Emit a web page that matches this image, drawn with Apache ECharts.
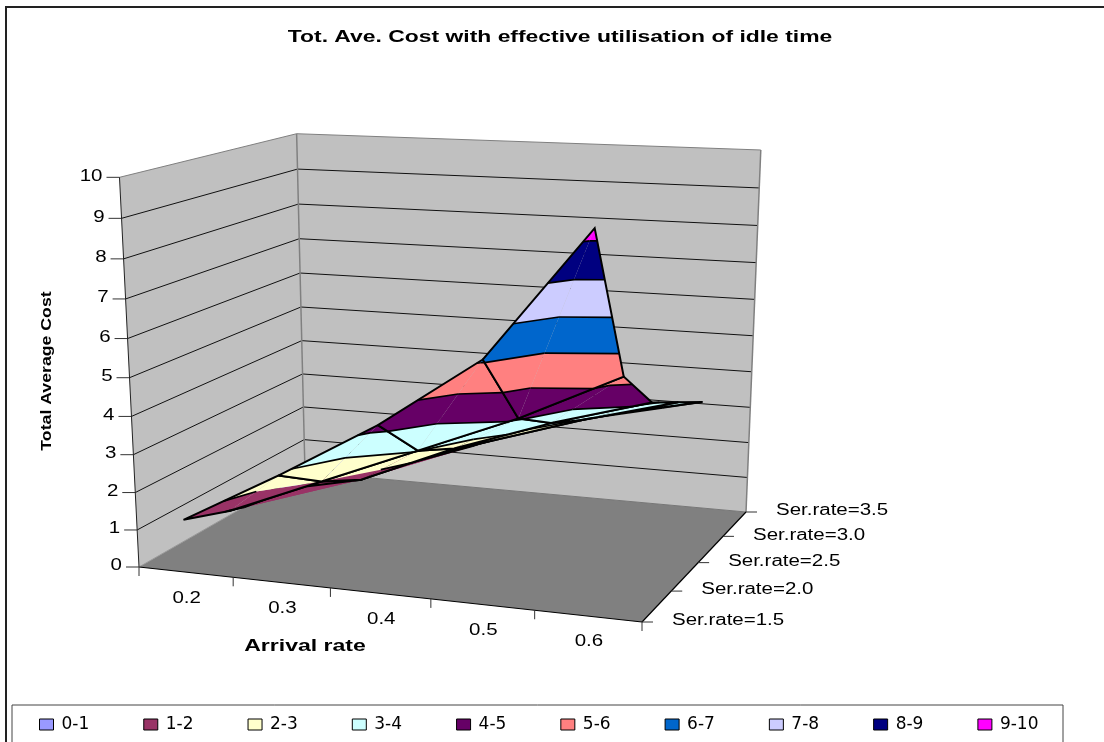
<!DOCTYPE html>
<html>
<head>
<meta charset="utf-8">
<title>Tot. Ave. Cost</title>
<script src="https://cdn.jsdelivr.net/npm/echarts@6/dist/echarts.min.js"></script>
<style>
html, body { margin: 0; padding: 0; background: #fff; }
#main { width: 1104px; height: 742px; }
</style>
</head>
<body>
<div id="main"></div>
<script>
// values
var arrival = [0.2, 0.3, 0.4, 0.5, 0.6];
var serRate = [1.5, 2.0, 2.5, 3.0, 3.5];
var costSer15 = [1.4, 2.8, 4.3, 6.1, 9.32];
var costSer20 = [0.95, 2.0, 3.05, 4.1, 5.35];
var costSer25 = [0.85, 1.4, 2.5, 3.4, 4.15];
var costSer30 = [0.75, 1.2, 2.08, 2.9, 3.6];
var costSer35 = [0.7, 1.0, 1.75, 2.5, 3.05];
var costRows = [costSer15, costSer20, costSer25, costSer30, costSer35];
var costTicks = [0, 1, 2, 3, 4, 5, 6, 7, 8, 9, 10];
var bandNames = ['0-1', '1-2', '2-3', '3-4', '4-5', '5-6', '6-7', '7-8', '8-9', '9-10'];
var bandColors = ['#9999FF', '#993366', '#FFFFCC', '#CCFFFF', '#660066', '#FF8080', '#0066CC', '#CCCCFF', '#000080', '#FF00FF'];

var arrivalMin = 0.15, arrivalMax = 0.65;
var serMin = 1.5, serMax = 3.5;
var costMax = 10;

// where the box corners land on the page
var floorFL = [139, 567], floorFR = [642, 622], floorBR = [746, 512], floorBL = [305, 472];
var topFL = [120, 176], topBL = [296, 133], topBR = [761, 152];

// floor homography, unit square -> quad
function floorMatrix() {
  var dx1 = floorFR[0] - floorBR[0], dx2 = floorBL[0] - floorBR[0];
  var dy1 = floorFR[1] - floorBR[1], dy2 = floorBL[1] - floorBR[1];
  var sx = floorFL[0] - floorFR[0] + floorBR[0] - floorBL[0];
  var sy = floorFL[1] - floorFR[1] + floorBR[1] - floorBL[1];
  var den = dx1 * dy2 - dx2 * dy1;
  var g = (sx * dy2 - dx2 * sy) / den;
  var h = (dx1 * sy - sx * dy1) / den;
  return [
    floorFR[0] - floorFL[0] + g * floorFR[0], floorBL[0] - floorFL[0] + h * floorBL[0], floorFL[0],
    floorFR[1] - floorFL[1] + g * floorFR[1], floorBL[1] - floorFL[1] + h * floorBL[1], floorFL[1],
    g, h, 1
  ];
}
var H = floorMatrix();

// height column of the projection, fitted to the three top corners
var C = (function () {
  var pts = [[0, 0, topFL], [0, 1, topBL], [1, 1, topBR]];
  var au = [], av = [], bu = [], bv = [];
  pts.forEach(function (p) {
    var U = H[0] * p[0] + H[1] * p[1] + H[2];
    var V = H[3] * p[0] + H[4] * p[1] + H[5];
    var W = H[6] * p[0] + H[7] * p[1] + H[8];
    au.push(p[2][0] * W - U); bu.push(p[2][0]);
    av.push(p[2][1] * W - V); bv.push(p[2][1]);
  });
  function mean(a) { return (a[0] + a[1] + a[2]) / 3; }
  var num = 0, den = 0;
  for (var i = 0; i < 3; i++) {
    num += (au[i] - mean(au)) * (bu[i] - mean(bu)) + (av[i] - mean(av)) * (bv[i] - mean(bv));
    den += (bu[i] - mean(bu)) * (bu[i] - mean(bu)) + (bv[i] - mean(bv)) * (bv[i] - mean(bv));
  }
  var c3 = -num / den;
  return [mean(au) + mean(bu) * c3, mean(av) + mean(bv) * c3, c3];
})();

// hidden cartesian grid: x = arrival, y = service rate
var gridLeft = 0, gridTop = 0, gridW = 1000, gridH = 700;

function perspective(x, y, z) {
  var w = H[6] * x + H[7] * y + H[8] + C[2] * z;
  return [
    (H[0] * x + H[1] * y + H[2] + C[0] * z) / w,
    (H[3] * x + H[4] * y + H[5] + C[1] * z) / w
  ];
}

function project(api, a, s, c) {
  var p = api.coord([a, s]);
  return perspective((p[0] - gridLeft) / gridW, (gridTop + gridH - p[1]) / gridH, c / costMax);
}

// clip a triangle to lo <= cost <= hi
function clip(poly, limit, keepAbove) {
  var out = [];
  for (var i = 0; i < poly.length; i++) {
    var p = poly[i], q = poly[(i + 1) % poly.length];
    var pIn = keepAbove ? p[2] >= limit : p[2] <= limit;
    var qIn = keepAbove ? q[2] >= limit : q[2] <= limit;
    if (pIn) out.push(p);
    if (pIn !== qIn) {
      var t = (limit - p[2]) / (q[2] - p[2]);
      out.push([p[0] + (q[0] - p[0]) * t, p[1] + (q[1] - p[1]) * t, limit]);
    }
  }
  return out;
}

// which side of line pq the point r falls on, on the page
function sideOf(p, q, r) {
  function pg(v) {
    return perspective((v[0] - arrivalMin) / (arrivalMax - arrivalMin), (v[1] - serMin) / (serMax - serMin), v[2] / costMax);
  }
  var a = pg(p), b = pg(q), c = pg(r);
  return (b[0] - a[0]) * (c[1] - a[1]) - (b[1] - a[1]) * (c[0] - a[0]);
}

// surface pieces, back row first, split by cost band
var pieces = bandNames.map(function () { return []; });
var cells = [];
var order = 0;
for (var j = serRate.length - 2; j >= 0; j--) {
  for (var i = 0; i < arrival.length - 1; i++) {
    var p00 = [arrival[i], serRate[j], costRows[j][i]];
    var p10 = [arrival[i + 1], serRate[j], costRows[j][i + 1]];
    var p01 = [arrival[i], serRate[j + 1], costRows[j + 1][i]];
    var p11 = [arrival[i + 1], serRate[j + 1], costRows[j + 1][i + 1]];
    // folded cells keep their outline: split on the outer diagonal
    var folded = sideOf(p00, p11, p10) * sideOf(p00, p11, p01) > 0;
    var tris = folded ? [[p00, p11, p01], [p00, p10, p11]] : [[p10, p11, p01], [p00, p10, p01]];
    tris.forEach(function (tri, t) {
      bandNames.forEach(function (n, b) {
        var poly = clip(clip(tri, b, true), b + 1, false);
        if (poly.length > 2) {
          pieces[b].push({ poly: poly, z2: 10 + order * 10 + t, top: b + 1 });
        }
      });
    });
    cells.push({ quad: [p00, p10, p11, p01], z2: 10 + order * 10 + 5 });
    order++;
  }
}

function bandSeries(name, b) {
  return {
    name: name,
    type: 'custom',
    coordinateSystem: 'cartesian2d',
    clip: false,
    silent: true,
    itemStyle: { color: bandColors[b] },
    data: pieces[b].map(function (f, k) { return [f.poly[0][0], f.poly[0][1], f.poly[0][2], k]; }),
    encode: { x: 0, y: 1 },
    renderItem: function (params, api) {
      var f = pieces[b][api.value(3)];
      var pts = f.poly.map(function (v) { return project(api, v[0], v[1], v[2]); });
      var children = [{
        type: 'polygon', z2: f.z2,
        shape: { points: pts },
        style: { fill: bandColors[b], stroke: null }
      }];
      // contour along the top of the band
      var onTop = f.poly.filter(function (v) { return v[2] === f.top; });
      if (onTop.length === 2 && f.top < costMax) {
        children.push({
          type: 'polyline', z2: f.z2 + 2,
          shape: { points: onTop.map(function (v) { return project(api, v[0], v[1], v[2]); }) },
          style: { stroke: '#000', lineWidth: 1.7, fill: null }
        });
      }
      return { type: 'group', children: children };
    }
  };
}

function meshSeries() {
  return {
    type: 'custom',
    coordinateSystem: 'cartesian2d',
    clip: false,
    silent: true,
    data: cells.map(function (c, k) { return [c.quad[0][0], c.quad[0][1], c.quad[0][2], k]; }),
    encode: { x: 0, y: 1 },
    renderItem: function (params, api) {
      var c = cells[api.value(3)];
      var pts = c.quad.map(function (v) { return project(api, v[0], v[1], v[2]); });
      pts.push(pts[0]);
      return {
        type: 'polyline', z2: c.z2,
        shape: { points: pts },
        style: { stroke: '#000', lineWidth: 2, fill: null }
      };
    }
  };
}

function label(text, x, y, opt) {
  opt = opt || {};
  return {
    type: 'text', x: x, y: y, z2: 5000,
    scaleX: opt.scaleX || 1.28,
    rotation: opt.rotation || 0,
    style: {
      text: text, x: 0, y: 0,
      fill: '#000',
      font: (opt.bold ? 'bold ' : '') + (opt.size || 16) + 'px "Liberation Sans", Arial, sans-serif',
      textAlign: opt.align || 'center',
      textVerticalAlign: 'middle'
    }
  };
}

function seg(a, b, color, width) {
  return {
    type: 'line', z2: 2,
    shape: { x1: a[0], y1: a[1], x2: b[0], y2: b[1] },
    style: { stroke: color, lineWidth: width }
  };
}

function frameSeries() {
  return {
    type: 'custom',
    coordinateSystem: 'cartesian2d',
    clip: false,
    silent: true,
    z: 1,
    data: [[arrivalMin, serMin]],
    encode: { x: 0, y: 1 },
    renderItem: function (params, api) {
      var P = function (a, s, c) { return project(api, a, s, c); };
      var FL0 = P(arrivalMin, serMin, 0), FR0 = P(arrivalMax, serMin, 0);
      var BR0 = P(arrivalMax, serMax, 0), BL0 = P(arrivalMin, serMax, 0);
      var FLt = P(arrivalMin, serMin, costMax), BLt = P(arrivalMin, serMax, costMax), BRt = P(arrivalMax, serMax, costMax);
      var kids = [];
      kids.push({ type: 'polygon', z2: 1, shape: { points: [FL0, FLt, BLt, BL0] }, style: { fill: '#C0C0C0', stroke: null } });
      kids.push({ type: 'polygon', z2: 1, shape: { points: [BL0, BLt, BRt, BR0] }, style: { fill: '#C0C0C0', stroke: null } });
      kids.push({ type: 'polygon', z2: 1, shape: { points: [FL0, FR0, BR0, BL0] }, style: { fill: '#808080', stroke: null } });
      // cost gridlines and ticks
      costTicks.forEach(function (v) {
        var a = P(arrivalMin, serMin, v), b = P(arrivalMin, serMax, v), c = P(arrivalMax, serMax, v);
        var col = (v === 0 || v === costMax) ? '#808080' : '#111';
        if (v > 0) {
          kids.push(seg(a, b, col, 1));
          kids.push(seg(b, c, col, 1));
        }
        kids.push(seg([a[0] - 13, a[1]], a, '#333', 1));
        kids.push(label(String(v), a[0] - 17, a[1] - 1, { align: 'right' }));
      });
      kids.push(seg(BLt, BL0, '#808080', 1.5));
      kids.push(seg(BRt, BR0, '#808080', 1.5));
      kids.push(seg(FLt, FL0, '#222', 1));
      kids.push(seg(FL0, BL0, '#999', 1));
      kids.push(seg(BL0, BR0, '#777', 1));
      kids.push(seg(FL0, FR0, '#000', 1.2));
      kids.push(seg(FR0, BR0, '#000', 1.2));
      // arrival ticks sit between the categories
      var step = (arrivalMax - arrivalMin) / arrival.length;
      for (var n = 0; n <= arrival.length; n++) {
        var t = P(arrivalMin + n * step, serMin, 0);
        kids.push(seg(t, [t[0], t[1] + 9], '#333', 1));
      }
      arrival.forEach(function (v) {
        var t = P(v, serMin, 0);
        kids.push(label(v.toFixed(1), t[0] + 1, t[1] + 26));
      });
      serRate.forEach(function (v) {
        var t = P(arrivalMax, v, 0);
        kids.push(seg(t, [t[0] + 11, t[1]], '#333', 1));
        kids.push(label('Ser.rate=' + v.toFixed(1), t[0] + 30, t[1] - 1, { align: 'left' }));
      });
      kids.push(label('Tot. Ave. Cost with effective utilisation of idle time', 560, 37, { bold: true, size: 17, scaleX: 1.347 }));
      kids.push(label('Arrival rate', 305, 646, { bold: true, size: 17, scaleX: 1.355 }));
      kids.push(label('Total Average Cost', 47, 371, { bold: true, size: 15, rotation: Math.PI / 2, scaleX: 1.18 }));
      return { type: 'group', children: kids };
    }
  };
}

var chart = echarts.init(document.getElementById('main'), null, { renderer: 'canvas' });
var seriesList = [frameSeries()];
bandNames.forEach(function (n, b) { seriesList.push(bandSeries(n, b)); });
seriesList.push(meshSeries());

chart.setOption({
  animation: false,
  backgroundColor: '#fff',
  grid: { left: gridLeft, top: gridTop, width: gridW, height: gridH, show: false },
  xAxis: { type: 'value', min: arrivalMin, max: arrivalMax, show: false },
  yAxis: { type: 'value', min: serMin, max: serMax, show: false },
  legend: {
    data: bandNames,
    left: 39,
    top: 716,
    padding: 0,
    selectedMode: false,
    icon: 'rect',
    itemWidth: 14,
    itemHeight: 11,
    itemGap: 54,
    itemStyle: { borderColor: '#000', borderWidth: 1 },
    textStyle: { fontFamily: 'DejaVu Sans', fontSize: 17, color: '#000', padding: [0, 0, 0, 3] }
  },
  graphic: [
    { type: 'polyline', z: 0, shape: { points: [[6, 742], [6, 7], [1104, 7]] }, style: { stroke: '#222', lineWidth: 2, fill: null } },
    { type: 'rect', z: 0, shape: { x: 12, y: 705, width: 1051, height: 40 }, style: { stroke: '#444', lineWidth: 1, fill: '#fff' } }
  ],
  series: seriesList
});
</script>
</body>
</html>
